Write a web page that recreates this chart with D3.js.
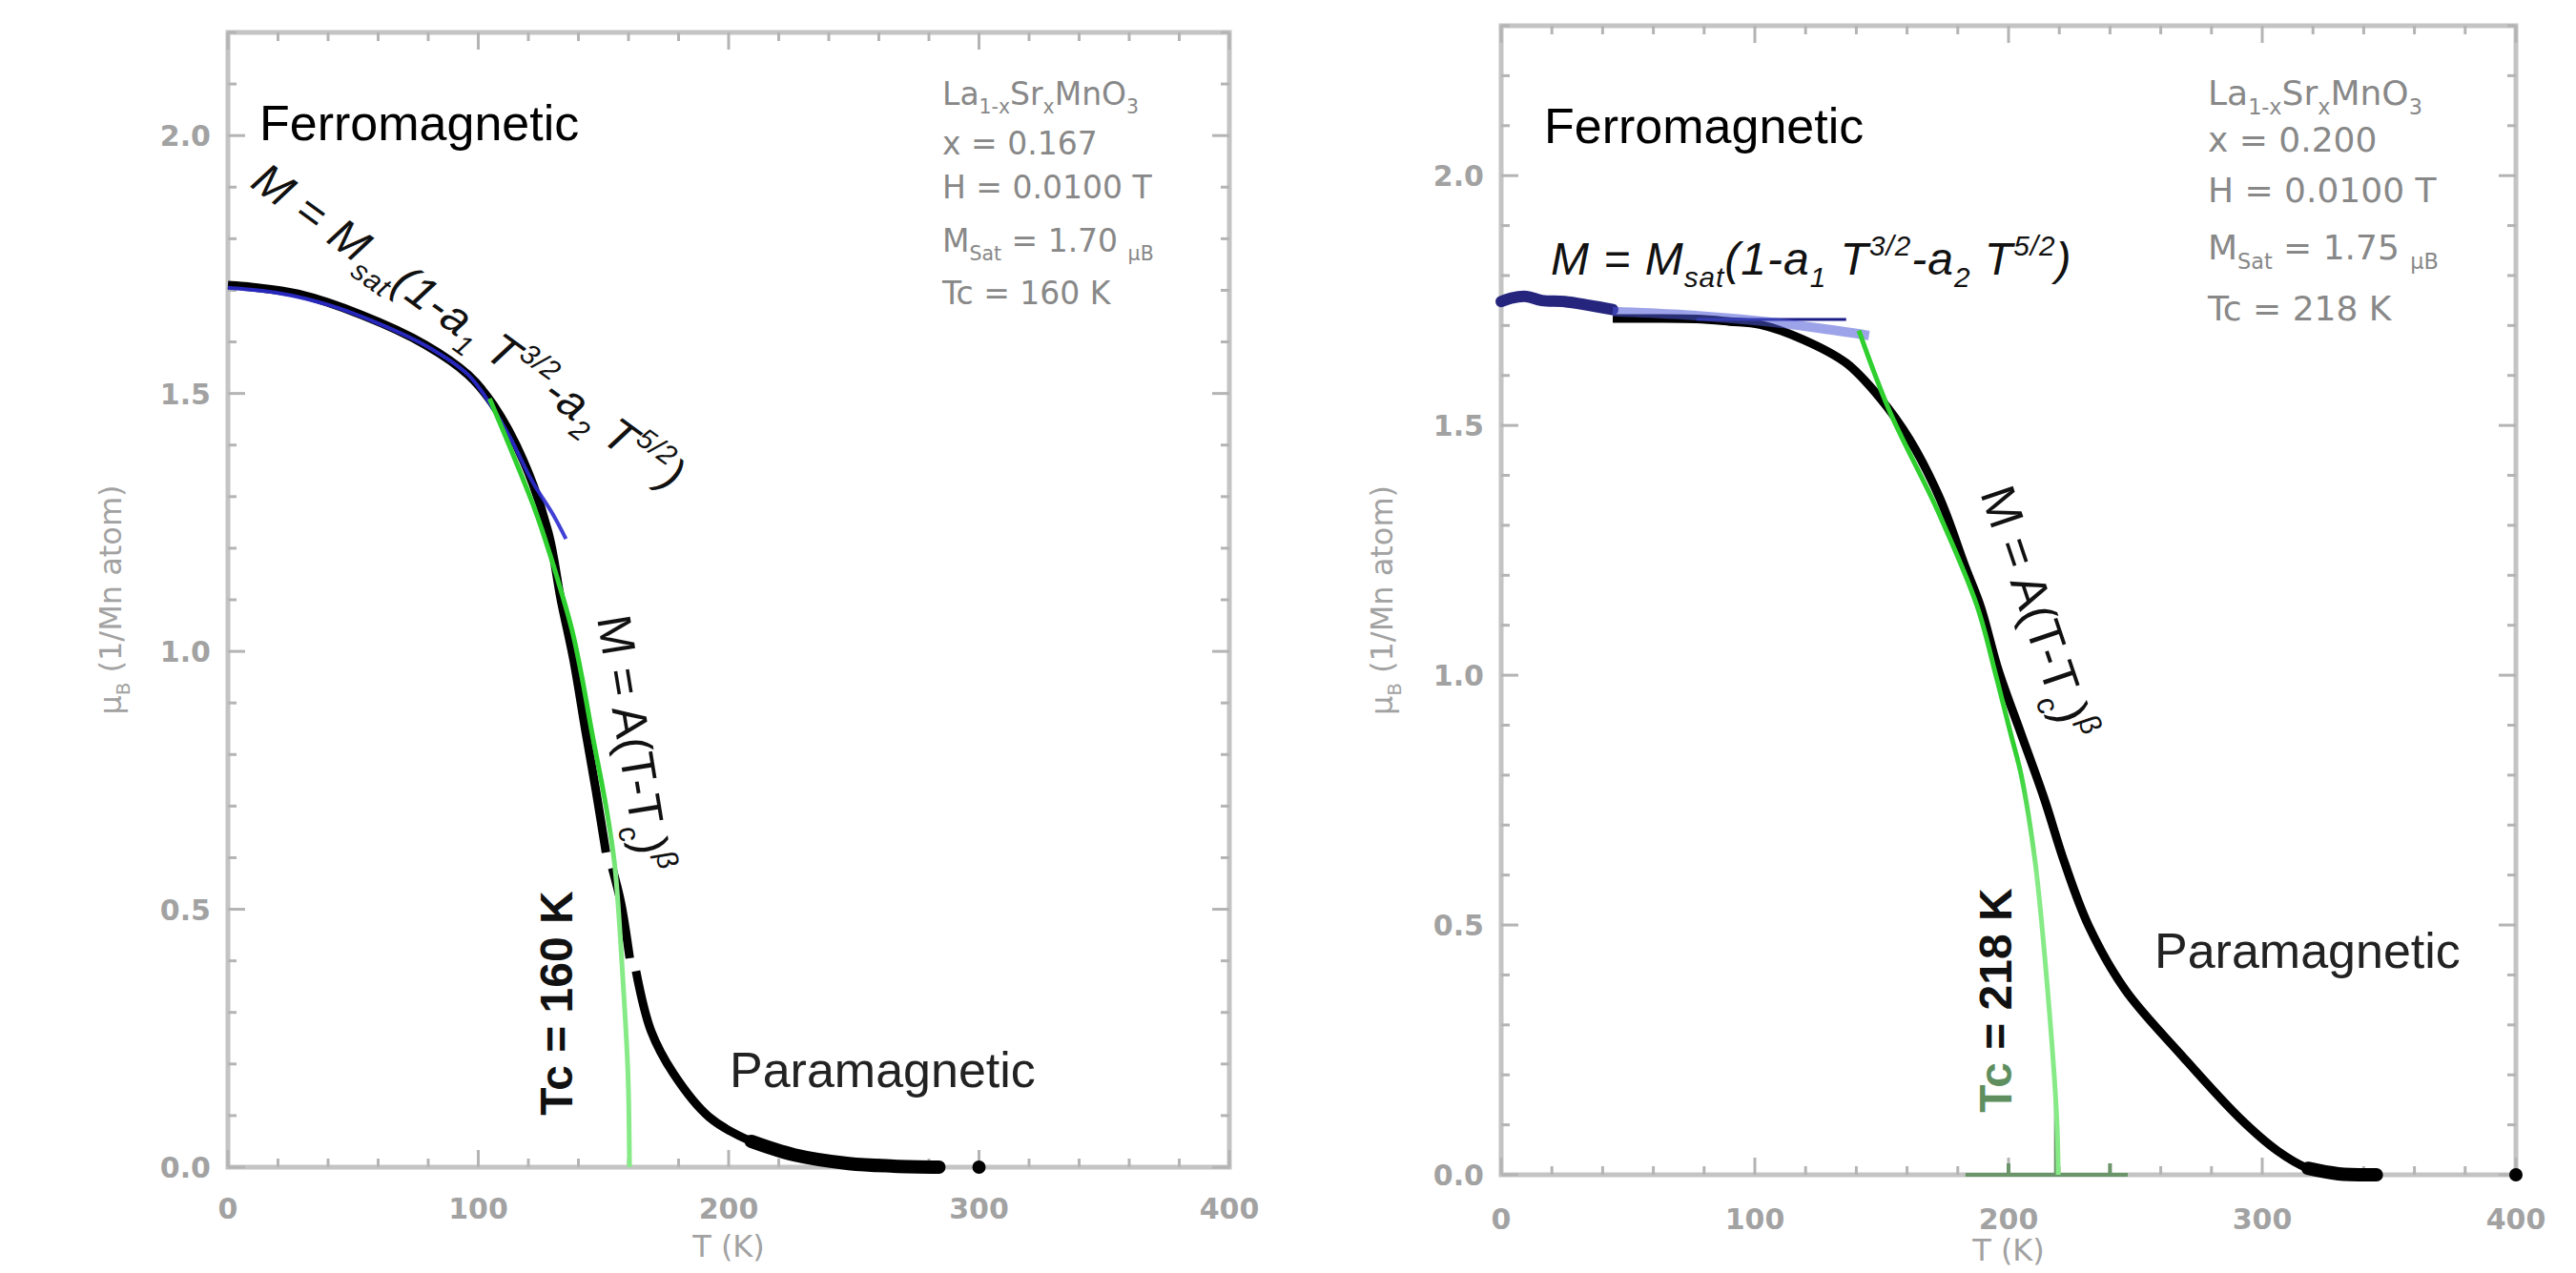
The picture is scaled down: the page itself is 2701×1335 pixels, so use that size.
<!DOCTYPE html>
<html>
<head>
<meta charset="utf-8">
<script src="https://cdn.jsdelivr.net/npm/d3@7"></script>
<style>
  html, body { margin: 0; padding: 0; background: #fff; }
  svg { display: block; }
  text { white-space: pre; }
</style>
</head>
<body>
<svg id="chart" width="2701" height="1335"></svg>
<script>
// ── DATA ───────────────────────────────────────────────────────────────────
const xTickVals = [0, 100, 200, 300, 400];
const yTickVals = [0, 0.5, 1.0, 1.5, 2.0];
const yTickText = ['0.0', '0.5', '1.0', '1.5', '2.0'];

// left panel, x = 0.167 (null = gap in the measured trace)
const leftT = [0, 10, 28, 53.5, 79, 96, 106, 118, 128, 133, 138, 143, 147, 151, 152, 153.5, 157, 160.5, 161.5, 163, 169, 178, 192, 209, 226, 248, 266, 284];
const leftM = [1.71, 1.706, 1.693, 1.652, 1.594, 1.536, 1.478, 1.37, 1.23, 1.10, 0.985, 0.841, 0.73, 0.61, null, 0.58, 0.512, 0.405, null, 0.38, 0.264, 0.181, 0.098, 0.05, 0.024, 0.007, 0.002, 0.0];
const leftFitT = [0, 20, 40, 60, 80, 96, 106, 113, 121.5, 130, 135];
const leftFitM = [1.705, 1.695, 1.672, 1.636, 1.59, 1.536, 1.47, 1.412, 1.33, 1.264, 1.218];
const leftCritT = [104.5, 114, 123, 128.5, 133.5, 137.5, 141, 145.5, 151, 154.5, 158, 159.8, 160.4];
const leftCritM = [1.49, 1.38, 1.27, 1.19, 1.11, 1.04, 0.96, 0.84, 0.70, 0.585, 0.345, 0.18, 0.0];
const leftDot = [300, 0];

// right panel, x = 0.200
const rightT = [44, 60, 77, 90, 102, 119, 136, 149, 161, 173, 183, 189, 196, 205, 214, 222, 231.6, 246, 267.7, 291, 306, 318, 330, 345];
const rightM = [1.714, 1.714, 1.713, 1.708, 1.702, 1.672, 1.625, 1.557, 1.472, 1.353, 1.216, 1.137, 1.01, 0.882, 0.754, 0.626, 0.498, 0.37, 0.242, 0.114, 0.048, 0.013, 0.002, 0.0];
const rightLowT = [0, 4, 10, 16, 25, 35, 44];
const rightLowM = [1.748, 1.755, 1.758, 1.75, 1.748, 1.74, 1.732];
const rightFitT = [44, 70, 100, 125, 145];
const rightFitM = [1.728, 1.722, 1.71, 1.695, 1.68];
const rightFlatT = [77, 136];
const rightFlatM = [1.712, 1.712];
const rightCritT = [141, 153, 172, 187.5, 195, 201, 205, 210.5, 215.4, 219, 219.6];
const rightCritM = [1.69, 1.53, 1.33, 1.14, 1.0, 0.88, 0.80, 0.626, 0.37, 0.114, 0.0];
const rightDot = [400, 0];
const rightTcSpan = [183, 247];
const rightTcTicks = [200, 240];
const rightTc = [218.5, 0.18];

const leftInfo = ['x = 0.167', 'H = 0.0100 T', '1.70', 'Tc = 160 K'];
const rightInfo = ['x = 0.200', 'H = 0.0100 T', '1.75', 'Tc = 218 K'];

// ── HELPERS ────────────────────────────────────────────────────────────────
const svg = d3.select('#chart');
const zip = (a, b) => a.map((v, i) => [v, b[i]]);

// text with sub/superscript tspans
function rich(sel, parts, size) {
  let shift = 0;
  parts.forEach(p => {
    const s = p.sub ? size * 0.28 : p.sup ? -size * 0.42 : 0;
    sel.append('tspan')
      .attr('dy', s - shift)
      .attr('font-size', (p.sub || p.sup) ? size * 0.62 : size)
      .attr('font-style', p.it ? 'italic' : null)
      .attr('fill', p.fill || null)
      .text(p.t);
    shift = s;
  });
  return sel;
}

const fitLabel = [
  {t: 'M', it: 1}, {t: ' = ', it: 1}, {t: 'M', it: 1}, {t: 'sat', sub: 1, it: 1},
  {t: '(1-a', it: 1}, {t: '1', sub: 1, it: 1}, {t: ' T', it: 1}, {t: '3/2', sup: 1, it: 1},
  {t: '-a', it: 1}, {t: '2', sub: 1, it: 1}, {t: ' T', it: 1}, {t: '5/2', sup: 1, it: 1}, {t: ')', it: 1}
];
const critLabel = [{t: 'M = A(T-T'}, {t: 'c', sub: 1}, {t: ')'}, {t: 'β', sup: 1}];

// ── PANEL ──────────────────────────────────────────────────────────────────
function drawPanel(p) {
  const g = svg.append('g');
  const x = d3.scaleLinear().domain([0, 400]).range([p.left, p.right]);
  const y = d3.scaleLinear().domain([0, p.yMax]).range([p.bottom, p.top]);
  const line = d3.line()
    .defined(d => d[1] != null)
    .x(d => x(d[0])).y(d => y(d[1]))
    .curve(d3.curveCatmullRom.alpha(0.5));

  // frame
  g.append('rect')
    .attr('x', p.left).attr('y', p.top)
    .attr('width', p.right - p.left).attr('height', p.bottom - p.top)
    .attr('fill', 'none').attr('stroke', '#c4c4c4').attr('stroke-width', 5);

  // inward ticks on all four sides
  const isMajorX = v => Math.abs(v % 100) < 1e-6;
  const isMajorY = v => Math.abs((v * 10) % 5) < 1e-6;
  const xs = d3.range(0, 400.001, 20);
  const ys = d3.range(0, p.yMax + 0.001, 0.1).map(v => +v.toFixed(1));
  const tk = g.append('g').attr('stroke', '#b4b4b4').attr('stroke-width', 3);
  xs.forEach(v => {
    const len = isMajorX(v) ? 18 : 9;
    tk.append('line').attr('x1', x(v)).attr('x2', x(v)).attr('y1', p.bottom).attr('y2', p.bottom - len);
    tk.append('line').attr('x1', x(v)).attr('x2', x(v)).attr('y1', p.top).attr('y2', p.top + len);
  });
  ys.forEach(v => {
    const len = isMajorY(v) ? 18 : 9;
    tk.append('line').attr('y1', y(v)).attr('y2', y(v)).attr('x1', p.left).attr('x2', p.left + len);
    tk.append('line').attr('y1', y(v)).attr('y2', y(v)).attr('x1', p.right).attr('x2', p.right - len);
  });

  // tick labels
  const lab = g.append('g')
    .attr('font-family', 'DejaVu Sans, sans-serif')
    .attr('font-weight', 'bold')
    .attr('font-size', 30).attr('fill', '#a2a2a2');
  xTickVals.forEach(v => {
    lab.append('text').attr('x', x(v)).attr('y', p.bottom + p.xLabDy)
      .attr('text-anchor', 'middle').text(v);
  });
  yTickVals.forEach((v, i) => {
    lab.append('text').attr('x', p.left - 18).attr('y', y(v) + 11)
      .attr('text-anchor', 'end').text(yTickText[i]);
  });

  // axis titles
  g.append('text')
    .attr('x', (p.left + p.right) / 2).attr('y', p.bottom + p.xTitleDy)
    .attr('text-anchor', 'middle')
    .attr('font-family', 'DejaVu Sans, sans-serif').attr('font-size', 32)
    .attr('fill', '#a2a2a2').text('T (K)');
  rich(g.append('text')
    .attr('transform', `translate(${p.yTitleX},${(p.top + p.bottom) / 2}) rotate(-90)`)
    .attr('text-anchor', 'middle')
    .attr('font-family', 'DejaVu Sans, sans-serif')
    .attr('fill', '#a2a2a2'),
    [{t: 'μ'}, {t: 'B', sub: 1}, {t: ' (1/Mn atom)'}], 32);

  // green gradient (strong near top, light near Tc)
  const gradId = 'grad-' + p.id;
  const grad = svg.append('defs').append('linearGradient')
    .attr('id', gradId).attr('gradientUnits', 'userSpaceOnUse')
    .attr('x1', 0).attr('x2', 0).attr('y1', y(p.gradFrom)).attr('y2', y(p.gradTo));
  grad.append('stop').attr('offset', 0).attr('stop-color', '#2ecf2e');
  grad.append('stop').attr('offset', 1).attr('stop-color', '#86ea86');

  // measured data
  g.append('path').datum(zip(p.dataT, p.dataM)).attr('d', line)
    .attr('fill', 'none').attr('stroke', '#000').attr('stroke-width', 9)
    .attr('stroke-linecap', 'butt');
  g.append('path').datum(zip(p.dataT, p.dataM).filter(d => d[0] >= p.tailFrom))
    .attr('d', line)
    .attr('fill', 'none').attr('stroke', '#000').attr('stroke-width', 14)
    .attr('stroke-linecap', 'round');

  p.extra(g, x, y, line);

  // spin-wave fit
  g.append('path').datum(zip(p.fitT, p.fitM)).attr('d', line)
    .attr('fill', 'none').attr('stroke', p.fitColor).attr('stroke-width', p.fitWidth)
    .attr('stroke-opacity', p.fitOpacity);

  // critical fit
  g.append('path').datum(zip(p.critT, p.critM)).attr('d', line)
    .attr('fill', 'none').attr('stroke', `url(#${gradId})`).attr('stroke-width', 5);

  // isolated end point
  g.append('circle').attr('cx', x(p.dot[0])).attr('cy', y(p.dot[1])).attr('r', 7).attr('fill', '#000');

  // labels
  const big = 'Liberation Sans, Arial, sans-serif';
  g.append('text').attr('x', p.ferro[0]).attr('y', p.ferro[1])
    .attr('font-family', big).attr('font-size', 52).text('Ferromagnetic');
  g.append('text').attr('x', p.para[0]).attr('y', p.para[1])
    .attr('font-family', big).attr('font-size', 52).attr('fill', '#222').text('Paramagnetic');

  rich(g.append('text')
    .attr('transform', `translate(${p.fit[0]},${p.fit[1]}) rotate(${p.fit[2]})`)
    .attr('font-family', big).attr('letter-spacing', 1).attr('fill', '#111'),
    fitLabel, 48);

  rich(g.append('text')
    .attr('transform', `translate(${p.crit[0]},${p.crit[1]}) rotate(${p.crit[2]})`)
    .attr('text-anchor', 'middle')
    .attr('font-family', big).attr('fill', '#111'),
    critLabel, p.crit[3]);

  rich(g.append('text')
    .attr('transform', `translate(${p.tcLab[0]},${p.tcLab[1]}) rotate(-90)`)
    .attr('text-anchor', 'middle')
    .attr('font-family', big).attr('font-weight', 'bold').attr('fill', '#111'),
    [{t: 'Tc', fill: p.tcColor}, {t: ' = ' + p.tcText + ' K'}], 48);

  // sample info block
  const info = g.append('g')
    .attr('font-family', 'DejaVu Sans, sans-serif')
    .attr('fill', '#888');
  const fs = p.infoSize;
  rich(info.append('text').attr('x', p.info[0]).attr('y', p.info[1][0]),
    [{t: 'La'}, {t: '1-x', sub: 1}, {t: 'Sr'}, {t: 'x', sub: 1}, {t: 'MnO'}, {t: '3', sub: 1}], fs);
  info.append('text').attr('x', p.info[0]).attr('y', p.info[1][1]).attr('font-size', fs).text(p.infoText[0]);
  info.append('text').attr('x', p.info[0]).attr('y', p.info[1][2]).attr('font-size', fs).text(p.infoText[1]);
  rich(info.append('text').attr('x', p.info[0]).attr('y', p.info[1][3]),
    [{t: 'M'}, {t: 'Sat', sub: 1}, {t: ' = ' + p.infoText[2] + ' '}, {t: 'μ', sub: 1}, {t: 'B', sub: 1}], fs);
  info.append('text').attr('x', p.info[0]).attr('y', p.info[1][4]).attr('font-size', fs).text(p.infoText[3]);
}

// ── LAYOUT ─────────────────────────────────────────────────────────────────
drawPanel({
  id: 'left', left: 239, right: 1289, top: 34, bottom: 1224, yMax: 2.2,
  xLabDy: 54, xTitleDy: 94, yTitleX: 127,
  dataT: leftT, dataM: leftM, tailFrom: 209,
  fitT: leftFitT, fitM: leftFitM, fitColor: '#2b2bd0', fitWidth: 4, fitOpacity: 0.9,
  critT: leftCritT, critM: leftCritM, gradFrom: 0.75, gradTo: 0.55,
  dot: leftDot,
  ferro: [272, 147], para: [765, 1140],
  fit: [261, 195, 36], crit: [648, 782, 80.7, 50], tcLab: [600, 1052],
  tcColor: '#111', tcText: '160',
  info: [988, [110, 162, 208, 264, 319]], infoSize: 33, infoText: leftInfo,
  extra: () => {}
});

drawPanel({
  id: 'right', left: 1574, right: 2638, top: 27, bottom: 1232, yMax: 2.3,
  xLabDy: 57, xTitleDy: 90, yTitleX: 1460,
  dataT: rightT, dataM: rightM, tailFrom: 318,
  fitT: rightFitT, fitM: rightFitM, fitColor: '#4d58d6', fitWidth: 10, fitOpacity: 0.55,
  critT: rightCritT, critM: rightCritM, gradFrom: 0.85, gradTo: 0.6,
  dot: rightDot,
  ferro: [1619, 150], para: [2259, 1015],
  fit: [1626, 288, 0], crit: [2120, 648, 71.4, 51], tcLab: [2109, 1049],
  tcColor: '#5f8f5f', tcText: '218',
  info: [2315, [110, 159, 212, 272, 336]], infoSize: 36, infoText: rightInfo,
  extra: (g, x, y, line) => {
    // low-T part of the trace, drawn in navy
    g.append('path').datum(zip(rightLowT, rightLowM)).attr('d', line)
      .attr('fill', 'none').attr('stroke', '#25257e').attr('stroke-width', 12)
      .attr('stroke-linecap', 'round');
    g.append('path').datum(zip(rightFlatT, rightFlatM)).attr('d', line)
      .attr('fill', 'none').attr('stroke', '#1c1c88').attr('stroke-width', 3);
    // Tc marker on the axis
    const mk = g.append('g').attr('stroke', '#6a946a').attr('stroke-width', 4);
    mk.append('line').attr('x1', x(rightTcSpan[0])).attr('x2', x(rightTcSpan[1]))
      .attr('y1', y(0)).attr('y2', y(0));
    rightTcTicks.forEach(v => {
      mk.append('line').attr('x1', x(v)).attr('x2', x(v)).attr('y1', y(0)).attr('y2', y(0) - 12);
    });
    mk.append('line').attr('x1', x(rightTc[0])).attr('x2', x(rightTc[0]))
      .attr('y1', y(0)).attr('y2', y(rightTc[1])).attr('stroke-width', 3);
  }
});
</script>
</body>
</html>
